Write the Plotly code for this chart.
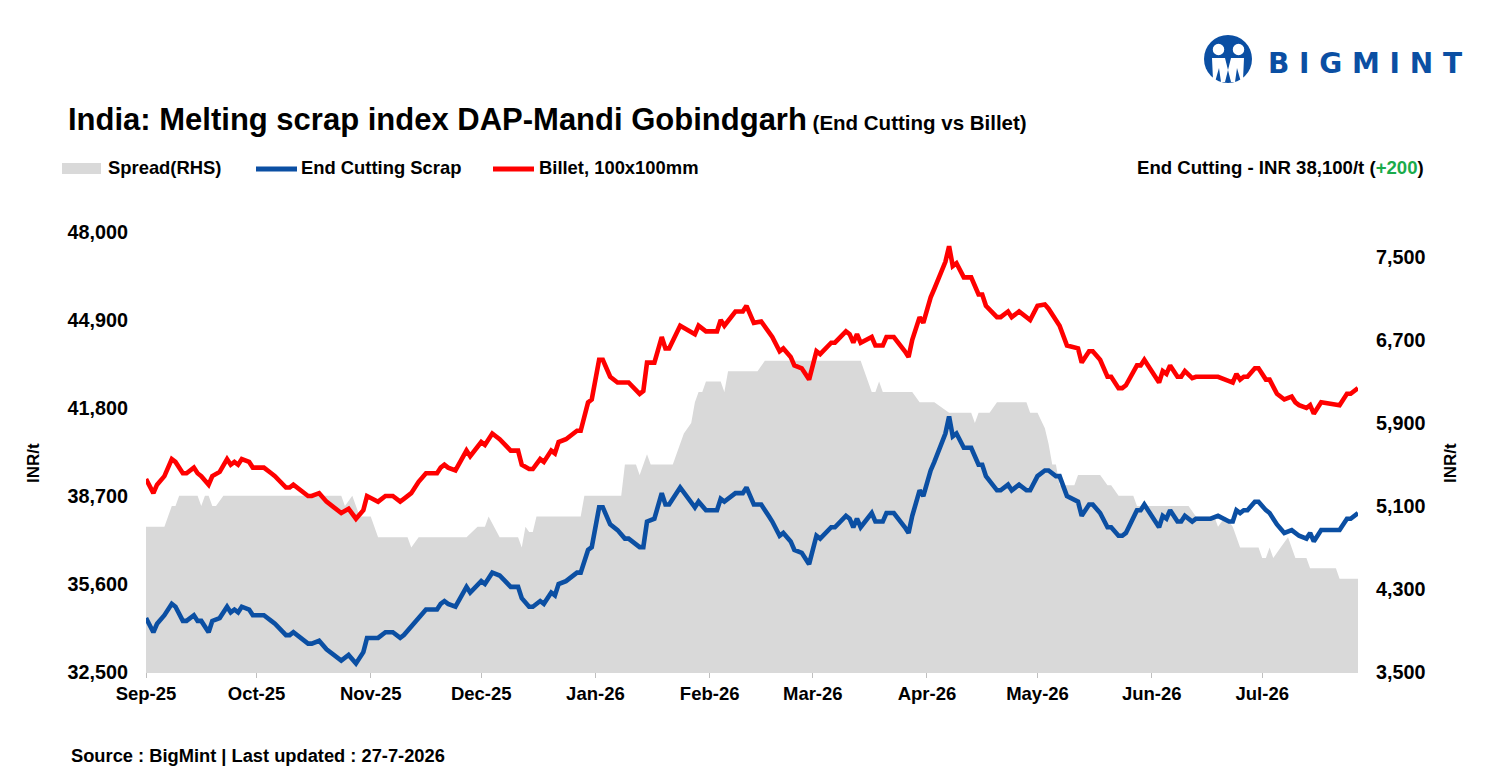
import plotly.graph_objects as go

# ---------------- data ----------------
dates = [
    "2025-09-01", "2025-09-03", "2025-09-04", "2025-09-06", "2025-09-08", "2025-09-09", "2025-09-11",
    "2025-09-12", "2025-09-14", "2025-09-15", "2025-09-16", "2025-09-18", "2025-09-19", "2025-09-21",
    "2025-09-23", "2025-09-24", "2025-09-25", "2025-09-26", "2025-09-27", "2025-09-29", "2025-09-30",
    "2025-10-03", "2025-10-05", "2025-10-06", "2025-10-09", "2025-10-10", "2025-10-11", "2025-10-13",
    "2025-10-15", "2025-10-16", "2025-10-18", "2025-10-20", "2025-10-24", "2025-10-26", "2025-10-28",
    "2025-10-30", "2025-10-31",
    "2025-11-03", "2025-11-05", "2025-11-07", "2025-11-09", "2025-11-10", "2025-11-12", "2025-11-14",
    "2025-11-16", "2025-11-17", "2025-11-19", "2025-11-20", "2025-11-21", "2025-11-22", "2025-11-24",
    "2025-11-27", "2025-11-28",
    "2025-12-01", "2025-12-02", "2025-12-04", "2025-12-06", "2025-12-09", "2025-12-11", "2025-12-12",
    "2025-12-14", "2025-12-15", "2025-12-17", "2025-12-18", "2025-12-20", "2025-12-21", "2025-12-22",
    "2025-12-24", "2025-12-27", "2025-12-28", "2025-12-30", "2025-12-31",
    "2026-01-02", "2026-01-03", "2026-01-05", "2026-01-07", "2026-01-09", "2026-01-10", "2026-01-13",
    "2026-01-14", "2026-01-15", "2026-01-17", "2026-01-19", "2026-01-20", "2026-01-21", "2026-01-24",
    "2026-01-28", "2026-01-29", "2026-01-31",
    "2026-02-03", "2026-02-04", "2026-02-05", "2026-02-08", "2026-02-10", "2026-02-11", "2026-02-13",
    "2026-02-15", "2026-02-17", "2026-02-18", "2026-02-20", "2026-02-21", "2026-02-23", "2026-02-24",
    "2026-02-26", "2026-02-27", "2026-02-28",
    "2026-03-02", "2026-03-03", "2026-03-06", "2026-03-07", "2026-03-10", "2026-03-11", "2026-03-12",
    "2026-03-13", "2026-03-14", "2026-03-17", "2026-03-18", "2026-03-20", "2026-03-21", "2026-03-23",
    "2026-03-26", "2026-03-27", "2026-03-28", "2026-03-30", "2026-03-31",
    "2026-04-02", "2026-04-03", "2026-04-06", "2026-04-07", "2026-04-08", "2026-04-09", "2026-04-11",
    "2026-04-13", "2026-04-15", "2026-04-16", "2026-04-17", "2026-04-20", "2026-04-21", "2026-04-23",
    "2026-04-24", "2026-04-26", "2026-04-28", "2026-04-29",
    "2026-05-01", "2026-05-03", "2026-05-04", "2026-05-06", "2026-05-07", "2026-05-09", "2026-05-12",
    "2026-05-13", "2026-05-15", "2026-05-16", "2026-05-18", "2026-05-20", "2026-05-21", "2026-05-23",
    "2026-05-24", "2026-05-25", "2026-05-28", "2026-05-29", "2026-05-30", "2026-05-31",
    "2026-06-02", "2026-06-03", "2026-06-04", "2026-06-05", "2026-06-06", "2026-06-08", "2026-06-09",
    "2026-06-10", "2026-06-12", "2026-06-13", "2026-06-17", "2026-06-19", "2026-06-22", "2026-06-23",
    "2026-06-24", "2026-06-25", "2026-06-26", "2026-06-27", "2026-06-29", "2026-06-30",
    "2026-07-02", "2026-07-03", "2026-07-05", "2026-07-07", "2026-07-09", "2026-07-10", "2026-07-11",
    "2026-07-13", "2026-07-14", "2026-07-15", "2026-07-16", "2026-07-17", "2026-07-22", "2026-07-24",
    "2026-07-25", "2026-07-27",
]

end_cutting_scrap = [
    34400, 33900, 34200, 34500, 34900, 34800, 34300, 34300, 34500, 34300, 34300, 33900, 34300, 34400,
    34800, 34600, 34700, 34600, 34800, 34700, 34500,
    34500, 34300, 34200, 33800, 33800, 33900, 33700, 33500, 33500, 33600, 33300, 32900, 33100, 32800,
    33200, 33700,
    33700, 33900, 33900, 33700, 33800, 34100, 34400, 34700, 34700, 34700, 34900, 35000, 34900, 34800,
    35500, 35300,
    35700, 35600, 36000, 35900, 35500, 35500, 35100, 34800, 34800, 35000, 34900, 35300, 35200, 35600,
    35700, 36000, 36000, 36800, 36900,
    38300, 38300, 37700, 37500, 37200, 37200, 36900, 36900, 37800, 37900, 38800, 38400, 38400, 39000,
    38300, 38500, 38200,
    38200, 38600, 38500, 38800, 38800, 39000, 38400, 38400, 38000, 37800, 37300, 37400, 37100, 36800,
    36700, 36500, 36300,
    37300, 37200, 37600, 37600, 38000, 37900, 37600, 37900, 37600, 38100, 37800, 37800, 38100, 38100,
    37600, 37400, 38000, 38900, 38700,
    39600, 39900, 40900, 41500, 40800, 40900, 40400, 40400, 39800, 39800, 39400, 38900, 38900, 39100,
    38900, 39100, 38900, 38900,
    39400, 39600, 39600, 39400, 39400, 38700, 38500, 38000, 38400, 38400, 38100, 37600, 37600, 37300,
    37300, 37400, 38200, 38200, 38400, 38200,
    37800, 37600, 38000, 37900, 38200, 37800, 37800, 38000, 37800, 37900, 37900, 38000, 37800, 37800,
    38200, 38100, 38200, 38200, 38500, 38500,
    38200, 38100, 37700, 37400, 37500, 37400, 37300, 37200, 37400, 37100, 37300, 37500, 37500, 37900,
    37900, 38100,
]

billet_100x100 = [
    39300, 38800, 39100, 39400, 40000, 39900, 39500, 39500, 39700, 39500, 39400, 39100, 39400, 39550,
    40000, 39800, 39900, 39800, 40000, 39900, 39700,
    39700, 39500, 39400, 39000, 39000, 39100, 38900, 38700, 38700, 38800, 38500, 38100, 38250, 37900,
    38200, 38700,
    38500, 38700, 38700, 38500, 38600, 38800, 39200, 39500, 39500, 39500, 39700, 39800, 39700, 39600,
    40300, 40100,
    40600, 40500, 40900, 40700, 40300, 40300, 39800, 39650, 39650, 40000, 39900, 40300, 40200, 40600,
    40700, 41000, 41000, 42000, 42100,
    43500, 43500, 42900, 42700, 42700, 42700, 42300, 42400, 43400, 43400, 44300, 43900, 43900, 44700,
    44400, 44700, 44500,
    44500, 44900, 44700, 45200, 45200, 45400, 44800, 44850, 44500, 44300, 43800, 43900, 43600, 43300,
    43200, 43000, 42800,
    43800, 43700, 44100, 44100, 44500, 44400, 44100, 44400, 44100, 44300, 44000, 44000, 44300, 44300,
    43800, 43600, 44200, 45000, 44800,
    45700, 46000, 46950, 47500, 46800, 46900, 46400, 46400, 45800, 45800, 45400, 45000, 45000, 45200,
    45000, 45200, 45000, 44900,
    45400, 45450, 45300, 44900, 44700, 44000, 43900, 43400, 43800, 43800, 43500, 42900, 42900, 42500,
    42500, 42600, 43300, 43300, 43500, 43300,
    42900, 42700, 43100, 43000, 43300, 42900, 42900, 43100, 42850, 42900, 42900, 42900, 42750, 42700,
    43000, 42800, 42900, 42900, 43200, 43200,
    42800, 42800, 42300, 42100, 42200, 42000, 41900, 41800, 41900, 41600, 41800, 42000, 41900, 42300,
    42300, 42500,
]

spread_dates = [
    "2025-09-01", "2025-09-06", "2025-09-08", "2025-09-09", "2025-09-10", "2025-09-15", "2025-09-16",
    "2025-09-17", "2025-09-18", "2025-09-19", "2025-09-20", "2025-09-22",
    "2025-10-24", "2025-10-25", "2025-10-27", "2025-10-29",
    "2025-11-01", "2025-11-03", "2025-11-11", "2025-11-12", "2025-11-14", "2025-11-27", "2025-11-30",
    "2025-12-02", "2025-12-03", "2025-12-06", "2025-12-11", "2025-12-12", "2025-12-13", "2025-12-14",
    "2025-12-15", "2025-12-16", "2025-12-28", "2025-12-29",
    "2026-01-08", "2026-01-09", "2026-01-12", "2026-01-13", "2026-01-15", "2026-01-16", "2026-01-22",
    "2026-01-24", "2026-01-25", "2026-01-27", "2026-01-28", "2026-01-29", "2026-01-30", "2026-01-31",
    "2026-02-04", "2026-02-05", "2026-02-06", "2026-02-14", "2026-02-16",
    "2026-03-14", "2026-03-17", "2026-03-18", "2026-03-19", "2026-03-20", "2026-03-28", "2026-03-30",
    "2026-04-03", "2026-04-07", "2026-04-13", "2026-04-14", "2026-04-15", "2026-04-18", "2026-04-20",
    "2026-04-28", "2026-04-29",
    "2026-05-01", "2026-05-03", "2026-05-04", "2026-05-05", "2026-05-06", "2026-05-07", "2026-05-11",
    "2026-05-12", "2026-05-18", "2026-05-20", "2026-05-21", "2026-05-23", "2026-05-27", "2026-05-28",
    "2026-06-11", "2026-06-13", "2026-06-18", "2026-06-19", "2026-06-21", "2026-06-23", "2026-06-25",
    "2026-06-30",
    "2026-07-01", "2026-07-02", "2026-07-03", "2026-07-04", "2026-07-06", "2026-07-08", "2026-07-10",
    "2026-07-13", "2026-07-14", "2026-07-21", "2026-07-22", "2026-07-27",
]

spread = [
    4900, 4900, 5100, 5100, 5200, 5200, 5100, 5200, 5200, 5100, 5100, 5200,
    5200, 5100, 5200, 5000,
    5000, 4800, 4800, 4700, 4800, 4800, 4900,
    4900, 5000, 4800, 4800, 4700, 4900, 4850, 4850, 5000, 5000, 5200,
    5200, 5500, 5500, 5400, 5600, 5500, 5500, 5700, 5800, 5900, 6100, 6200, 6200, 6300,
    6300, 6200, 6400, 6400, 6500,
    6500, 6200, 6200, 6300, 6200, 6200, 6100,
    6100, 6000, 6000, 5900, 6000, 6000, 6100, 6100, 6000,
    6000, 5850, 5700, 5500, 5500, 5300, 5300, 5400, 5400, 5300, 5300, 5200, 5200, 5100,
    5100, 5000, 5000, 4900, 5000, 4900, 4700, 4700,
    4600, 4600, 4700, 4600, 4700, 4800, 4600, 4600, 4500, 4500, 4400, 4400,
]

month_ticks = ["2025-09-01", "2025-10-01", "2025-11-01", "2025-12-01", "2026-01-01", "2026-02-01",
               "2026-03-01", "2026-04-01", "2026-05-01", "2026-06-01", "2026-07-01"]
month_labels = ["Sep-25", "Oct-25", "Nov-25", "Dec-25", "Jan-26", "Feb-26",
                "Mar-26", "Apr-26", "May-26", "Jun-26", "Jul-26"]
left_ticks = [32500, 35600, 38700, 41800, 44900, 48000]
right_ticks = [3500, 4300, 5100, 5900, 6700, 7500]

# ---------------- styling ----------------
W, H = 1490, 776
L, R, T, B = 146, 132, 232, 104
PW, PH = W - L - R, H - T - B

BLUE = "#0b4fa3"
RED = "#ff0000"
GREY = "#d9d9d9"
FONT = "Liberation Sans, Arial, sans-serif"


def px(x):
    return (x - L) / PW


def py(y):
    return (H - B - y) / PH


fig = go.Figure()

fig.add_trace(go.Scatter(
    x=spread_dates, y=spread, name="Spread(RHS)", mode="lines",
    fill="tozeroy", fillcolor=GREY, line=dict(width=0, color=GREY),
    yaxis="y", hoverinfo="skip", showlegend=False,
))
fig.add_trace(go.Scatter(
    x=dates, y=end_cutting_scrap, name="End Cutting Scrap", mode="lines",
    line=dict(color=BLUE, width=4.6), yaxis="y2", showlegend=False,
))
fig.add_trace(go.Scatter(
    x=dates, y=billet_100x100, name="Billet, 100x100mm", mode="lines",
    line=dict(color=RED, width=4.6), yaxis="y2", showlegend=False,
))

xtickfont = dict(family=FONT, size=18.5, color="#000000", weight=700)
ytickfont = dict(family=FONT, size=19.8, color="#000000", weight=700)

fig.update_layout(
    width=W, height=H,
    margin=dict(l=L, r=R, t=T, b=B, pad=0),
    paper_bgcolor="white", plot_bgcolor="white",
    showlegend=False,
    xaxis=dict(
        type="date", range=["2025-09-01", "2026-07-27"],
        tickvals=month_ticks, ticktext=month_labels,
        ticks="outside", ticklen=5, tickcolor="#bfbfbf", tickwidth=1,
        showline=True, linecolor=GREY, linewidth=1,
        showgrid=False, zeroline=False, tickfont=xtickfont,
    ),
    yaxis=dict(
        side="right", range=[3500, 7741], tickvals=right_ticks, tickformat=",",
        showgrid=False, zeroline=False, showline=False, ticks="",
        ticklabelstandoff=17, tickfont=ytickfont,
    ),
    yaxis2=dict(
        side="left", overlaying="y", range=[32500, 48000], tickvals=left_ticks, tickformat=",",
        showgrid=False, zeroline=False, showline=False, ticks="",
        ticklabelstandoff=17, tickfont=ytickfont,
    ),
)

annotations = [
    dict(x=px(66), y=py(119), xanchor="left", yanchor="middle",
         text="India: Melting scrap index DAP-Mandi Gobindgarh"
              "<span style='font-size:20.5px'> (End Cutting vs Billet)</span>",
         font=dict(family=FONT, size=31, color="#000000", weight=700)),
    dict(x=px(106), y=py(168), xanchor="left", yanchor="middle", text="Spread(RHS)",
         font=dict(family=FONT, size=18.4, color="#000000", weight=700)),
    dict(x=px(299), y=py(168), xanchor="left", yanchor="middle", text="End Cutting Scrap",
         font=dict(family=FONT, size=18.4, color="#000000", weight=700)),
    dict(x=px(537), y=py(168), xanchor="left", yanchor="middle", text="Billet, 100x100mm",
         font=dict(family=FONT, size=18.4, color="#000000", weight=700)),
    dict(x=px(1426), y=py(168), xanchor="right", yanchor="middle",
         text="End Cutting - INR 38,100/t (<span style='color:#1aab4b'>+200</span>)",
         font=dict(family=FONT, size=18.6, color="#000000", weight=700)),
    dict(x=px(33), y=py(463), xanchor="center", yanchor="middle", text="INR/t", textangle=-90,
         font=dict(family=FONT, size=17, color="#000000", weight=700)),
    dict(x=px(1450), y=py(463), xanchor="center", yanchor="middle", text="INR/t", textangle=-90,
         font=dict(family=FONT, size=17, color="#000000", weight=700)),
    dict(x=px(69), y=py(755), xanchor="left", yanchor="middle",
         text="Source : BigMint | Last updated : 27-7-2026",
         font=dict(family=FONT, size=18.3, color="#000000", weight=700)),
    dict(x=px(1266), y=py(63), xanchor="left", yanchor="middle", text="B I G M I N T",
         font=dict(family="DejaVu Sans, sans-serif", size=28, color=BLUE, weight=700)),
]
for a in annotations:
    a.update(xref="paper", yref="paper", showarrow=False)
fig.update_layout(annotations=annotations)

shapes = [
    # legend swatches
    dict(type="rect", x0=px(62), x1=px(101), y0=py(174), y1=py(163),
         fillcolor=GREY, line=dict(width=0)),
    dict(type="line", x0=px(256), x1=px(297), y0=py(169), y1=py(169),
         line=dict(color=BLUE, width=5)),
    dict(type="line", x0=px(493), x1=px(534), y0=py(169), y1=py(169),
         line=dict(color=RED, width=5)),
    # logo icon
    dict(type="circle", x0=px(1204), x1=px(1252), y0=py(83), y1=py(35),
         fillcolor=BLUE, line=dict(width=0)),
    dict(type="circle", x0=px(1212), x1=px(1225), y0=py(56), y1=py(43),
         fillcolor="white", line=dict(color=BLUE, width=1.5)),
    dict(type="circle", x0=px(1232), x1=px(1245), y0=py(56), y1=py(43),
         fillcolor="white", line=dict(color=BLUE, width=1.5)),
    dict(type="path",
         path=f"M {px(1212)},{py(58)} L {px(1225)},{py(58)} L {px(1228)},{py(70)} "
              f"L {px(1225)},{py(82)} L {px(1221)},{py(82)} L {px(1219)},{py(68)} L {px(1215)},{py(82)} "
              f"L {px(1213)},{py(80)} Z",
         fillcolor="white", line=dict(width=0)),
    dict(type="path",
         path=f"M {px(1244)},{py(58)} L {px(1231)},{py(58)} L {px(1228)},{py(70)} "
              f"L {px(1231)},{py(82)} L {px(1235)},{py(82)} L {px(1237)},{py(68)} L {px(1241)},{py(82)} "
              f"L {px(1243)},{py(80)} Z",
         fillcolor="white", line=dict(width=0)),
]
for s in shapes:
    s.update(xref="paper", yref="paper", layer="above")
fig.update_layout(shapes=shapes)

fig.write_html(
    "out.html",
    config={"displayModeBar": False},
    post_script="document.body.style.margin='0';document.body.style.overflow='hidden';",
)
